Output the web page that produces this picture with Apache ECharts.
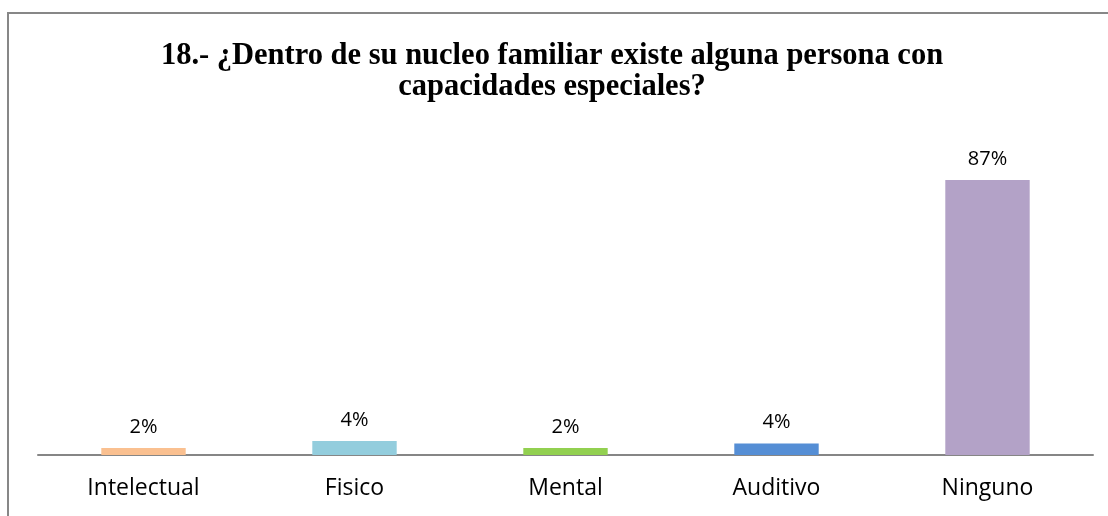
<!DOCTYPE html>
<html>
<head>
    <meta charset="utf-8">
    <script src="https://cdn.jsdelivr.net/npm/echarts@6/dist/echarts.min.js"></script>
    <style>
        html, body { margin: 0; padding: 0; background: #fff; }
    </style>
</head>
<body>
<div id="chart" style="width:1108px;height:516px"></div>
<script>
    // datos
    var categorias = ['Intelectual', 'Fisico', 'Mental', 'Auditivo', 'Ninguno'];
    var valores = [2.2, 4.4, 2.2, 3.6, 87];
    var colores = ['#FAC090', '#93CDDD', '#92D050', '#558ED5', '#B3A2C7'];
    var titulo = '18.- ¿Dentro de su nucleo familiar existe alguna persona con\ncapacidades especiales?';

    var myChart = echarts.init(document.getElementById('chart'));

    var barData = [];
    for (var i = 0; i < valores.length; i++) {
        barData.push({ value: valores[i], itemStyle: { color: colores[i] } });
    }

    var option = {
        animation: false,
        title: {
            text: titulo,
            left: 547,
            top: 36,
            textAlign: 'center',
            textStyle: {
                fontFamily: '"Liberation Serif", "Times New Roman", serif',
                fontWeight: 'bold',
                fontSize: 30.5,
                lineHeight: 31,
                color: '#000'
            }
        },
        graphic: [{
            type: 'rect',
            shape: { x: 8, y: 13, width: 1200, height: 600 },
            style: { fill: 'none', stroke: '#878787', lineWidth: 2 },
            silent: true
        }],
        grid: {
            left: 38,
            right: 15,
            top: 139,
            bottom: 61
        },
        xAxis: {
            type: 'category',
            data: categorias,
            axisLine: { lineStyle: { color: '#868686', width: 2 } },
            axisTick: { show: false },
            axisLabel: {
                margin: 22,
                fontFamily: '"Open Sans", sans-serif',
                fontSize: 23,
                color: '#000'
            }
        },
        yAxis: {
            type: 'value',
            min: 0,
            max: 100,
            show: false,
            splitLine: { show: false }
        },
        series: [{
            type: 'bar',
            barWidth: '40%',
            data: barData,
            label: {
                show: true,
                position: 'top',
                distance: 11,
                fontFamily: '"Open Sans", sans-serif',
                fontSize: 20,
                color: '#000',
                formatter: function (p) {
                    return Math.round(p.value) + '%';
                }
            }
        }]
    };
    myChart.setOption(option);
</script>
</body>
</html>
